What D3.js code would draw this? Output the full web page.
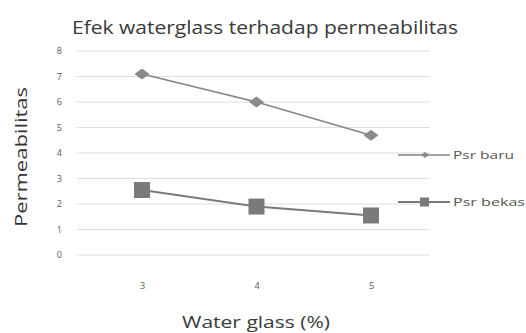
<!DOCTYPE html>
<html>
<head>
<meta charset="utf-8">
<script src="https://cdn.jsdelivr.net/npm/d3@7"></script>
<style>
  html, body { margin: 0; padding: 0; background: #fff; }
  svg { display: block; font-family: "Open Sans", "DejaVu Sans", sans-serif; }
</style>
</head>
<body>
<svg id="chart" width="526" height="333"></svg>
<script>
// Water glass content (%) on the x axis
const categories = ["3", "4", "5"];
// Permeability per sand type
const psrBaru = [7.1, 6.0, 4.7];
const psrBekas = [2.55, 1.9, 1.55];
const seriesNames = ["Psr baru", "Psr bekas"];
const yTicks = [0, 1, 2, 3, 4, 5, 6, 7, 8];

const svg = d3.select("#chart");
const plot = { left: 77, right: 430, top: 51, bottom: 255 };

const x = d3.scalePoint().domain(categories).range([142, 371]);
const y = d3.scaleLinear().domain([0, 8]).range([plot.bottom, plot.top]);

// Horizontal gridlines
svg.append("g")
  .selectAll("line")
  .data(yTicks)
  .join("line")
  .attr("x1", plot.left).attr("x2", plot.right)
  .attr("y1", d => y(d)).attr("y2", d => y(d))
  .attr("stroke", "#dedede").attr("stroke-width", 1);

// Y axis tick labels
const yAxis = d3.axisLeft(y).tickValues(yTicks).tickSize(0).tickPadding(0);
svg.append("g")
  .attr("transform", `translate(${plot.left - 15},0)`)
  .call(yAxis)
  .call(g => g.select(".domain").remove())
  .call(g => g.selectAll("text").attr("font-size", 9).attr("fill", "#595959")
    .attr("font-family", "Open Sans, sans-serif"));

// X axis tick labels
const xAxis = d3.axisBottom(x).tickSize(0).tickPadding(0);
svg.append("g")
  .attr("transform", `translate(0,${plot.bottom + 28})`)
  .call(xAxis)
  .call(g => g.select(".domain").remove())
  .call(g => g.selectAll("text").attr("font-size", 9).attr("fill", "#595959")
    .attr("font-family", "Open Sans, sans-serif"));

// Title and axis titles
svg.append("text")
  .attr("x", 72).attr("y", 34)
  .attr("textLength", 386).attr("lengthAdjust", "spacingAndGlyphs")
  .attr("font-size", 18).attr("fill", "#3a3a3a")
  .text("Efek waterglass terhadap permeabilitas");

svg.append("text")
  .attr("transform", "translate(27,227) rotate(-90)")
  .attr("textLength", 140).attr("lengthAdjust", "spacingAndGlyphs")
  .attr("font-size", 16).attr("fill", "#333")
  .text("Permeabilitas");

svg.append("text")
  .attr("x", 182).attr("y", 328)
  .attr("textLength", 148).attr("lengthAdjust", "spacingAndGlyphs")
  .attr("font-size", 16).attr("fill", "#3a3a3a")
  .text("Water glass (%)");

const line = d3.line().x((d, i) => x(categories[i])).y(d => y(d));

// Series 1: wide diamonds
svg.append("path")
  .datum(psrBaru)
  .attr("d", line)
  .attr("fill", "none").attr("stroke", "#868686").attr("stroke-width", 1.6);
const diamondPath = (w, h) => `M${-w / 2},0L0,${-h / 2}L${w / 2},0L0,${h / 2}Z`;
svg.append("g").selectAll("path")
  .data(psrBaru)
  .join("path")
  .attr("transform", (d, i) => `translate(${x(categories[i])},${y(d)})`)
  .attr("d", diamondPath(15, 11))
  .attr("fill", "#8a8a8a");

// Series 2: squares
svg.append("path")
  .datum(psrBekas)
  .attr("d", line)
  .attr("fill", "none").attr("stroke", "#7a7a7a").attr("stroke-width", 2);
svg.append("g").selectAll("rect")
  .data(psrBekas)
  .join("rect")
  .attr("x", (d, i) => x(categories[i]) - 8)
  .attr("y", d => y(d) - 8)
  .attr("width", 16).attr("height", 16)
  .attr("fill", "#7a7a7a");

// Legend
const legend = svg.append("g");
const legendY = [155, 202];
legend.selectAll("line")
  .data(seriesNames)
  .join("line")
  .attr("x1", 398).attr("x2", 450)
  .attr("y1", (d, i) => legendY[i]).attr("y2", (d, i) => legendY[i])
  .attr("stroke", (d, i) => i === 0 ? "#868686" : "#7a7a7a")
  .attr("stroke-width", (d, i) => i === 0 ? 1.4 : 1.8);
legend.append("path")
  .attr("transform", `translate(425,${legendY[0]})`)
  .attr("d", diamondPath(8, 6))
  .attr("fill", "#8a8a8a");
legend.append("rect")
  .attr("x", 420).attr("y", legendY[1] - 4.5)
  .attr("width", 9).attr("height", 9)
  .attr("fill", "#7a7a7a");
legend.selectAll("text")
  .data(seriesNames)
  .join("text")
  .attr("x", 453)
  .attr("y", (d, i) => legendY[i])
  .attr("dy", "0.35em")
  .attr("textLength", (d, i) => i === 0 ? 61 : 72)
  .attr("lengthAdjust", "spacingAndGlyphs")
  .attr("font-size", 10).attr("fill", "#555")
  .text(d => d);
</script>
</body>
</html>
